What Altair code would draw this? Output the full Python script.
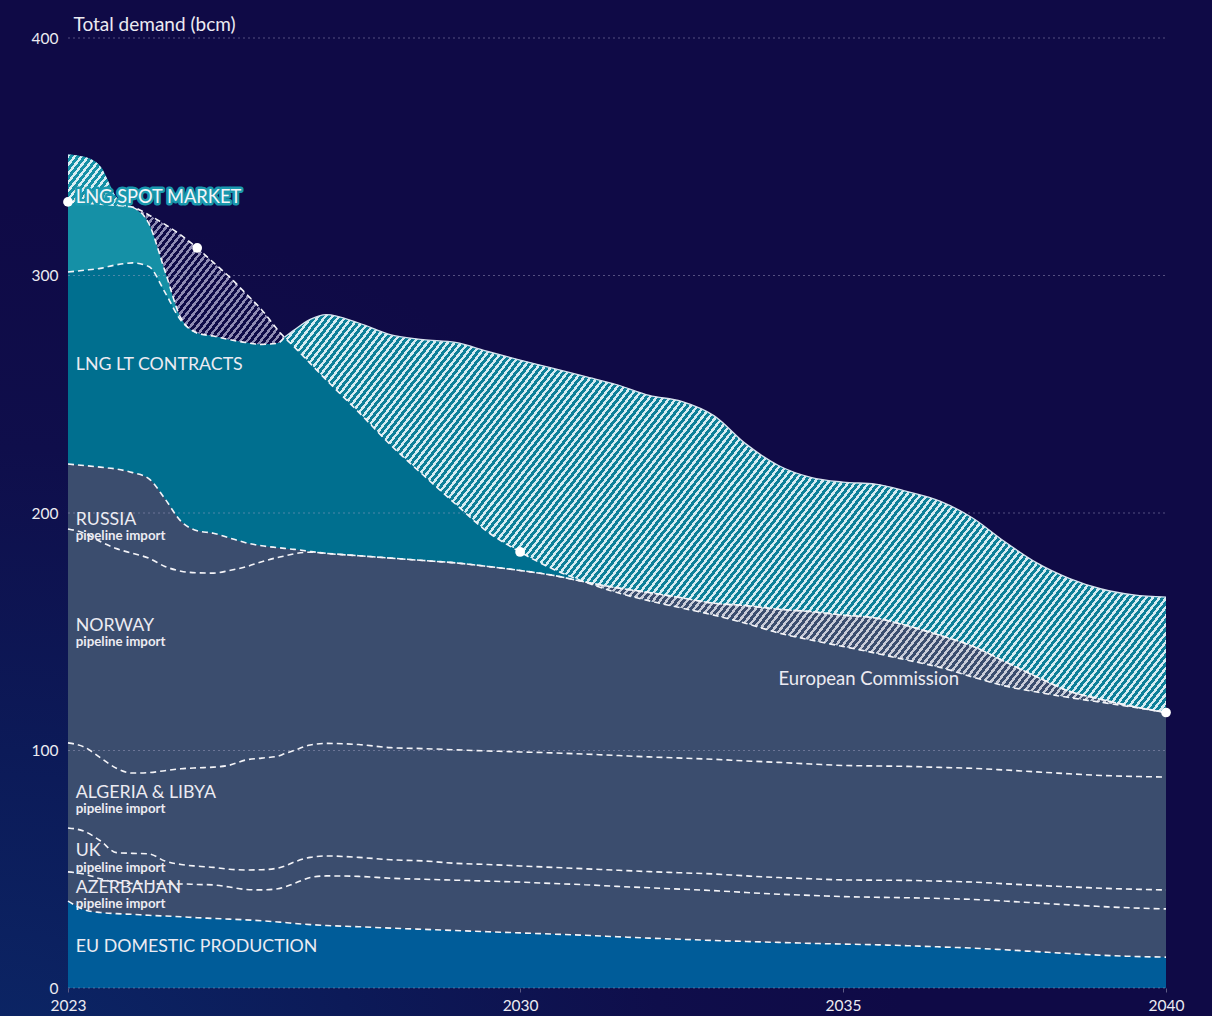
import math
import altair as alt
import pandas as pd

# ---------------- data ----------------
YEARS = [2023, 2023.25, 2023.5, 2023.75, 2024, 2024.25, 2024.5, 2024.75, 2025, 2025.25,
         2025.5, 2025.75, 2026, 2026.25, 2026.35, 2026.5, 2026.75, 2027, 2027.5, 2028,
         2028.5, 2029, 2029.5, 2030, 2030.5, 2031, 2031.5, 2032, 2032.5, 2033,
         2033.5, 2034, 2034.5, 2035, 2035.5, 2036, 2036.5, 2037, 2037.5, 2038,
         2038.5, 2039, 2039.5, 2040]

# cumulative tops of each supply layer (bcm)
EU_DOMESTIC_TOP = [36.6, 33.0, 31.8, 31.3, 31.0, 30.6, 30.3, 30.0, 29.6, 29.3,
                   29.0, 28.7, 28.3, 27.8, 27.6, 27.2, 26.7, 26.3, 25.8, 25.2,
                   24.7, 24.2, 23.7, 23.2, 22.7, 22.2, 21.6, 21.0, 20.5, 20.0,
                   19.6, 19.2, 18.8, 18.5, 18.2, 17.8, 17.3, 16.8, 16.1, 15.3,
                   14.5, 13.8, 13.3, 13.0]
AZERBAIJAN_TOP = [48.9, 48.0, 46.0, 44.5, 44.0, 43.9, 43.8, 43.8, 43.6, 43.4,
                  42.5, 41.5, 41.3, 41.8, 42.5, 44.0, 46.5, 47.2, 47.0, 46.2,
                  45.8, 45.4, 45.0, 44.6, 44.0, 43.5, 42.8, 42.2, 41.6, 41.0,
                  40.2, 39.5, 39.0, 38.5, 38.2, 38.0, 37.7, 37.3, 36.6, 35.8,
                  35.0, 34.3, 33.7, 33.3]
UK_TOP = [67.4, 66.0, 62.0, 57.0, 56.7, 56.5, 53.5, 52.0, 51.3, 50.8,
          50.0, 49.7, 49.8, 50.5, 51.3, 53.0, 55.0, 55.6, 55.0, 54.0,
          53.5, 52.5, 52.0, 51.4, 50.8, 50.2, 49.6, 49.0, 48.5, 48.0,
          47.2, 46.5, 46.0, 45.5, 45.4, 45.3, 45.0, 44.6, 43.9, 43.2,
          42.6, 42.0, 41.6, 41.3]
ALGERIA_LIBYA_TOP = [103.2, 101.5, 97.0, 92.5, 90.5, 90.7, 91.5, 92.3, 92.7, 93.0,
                     93.8, 96.0, 96.8, 97.6, 98.6, 100.0, 102.3, 103.0, 102.5, 101.2,
                     100.8, 100.3, 99.8, 99.4, 99.0, 98.5, 97.9, 97.3, 96.8, 96.3,
                     95.6, 95.0, 94.3, 93.7, 93.5, 93.3, 92.9, 92.5, 91.8, 91.0,
                     90.2, 89.5, 89.1, 88.8]
NORWAY_TOP = [193.3, 191.5, 188.0, 185.0, 183.0, 181.0, 177.5, 175.5, 174.8, 174.7,
              175.8, 177.3, 179.5, 181.3, 181.9, 182.8, 183.5, 183.0, 182.0, 181.0,
              180.0, 179.0, 177.5, 175.8, 173.8, 171.0, 168.5, 166.5, 164.3, 162.0,
              161.0, 159.5, 158.5, 157.0, 155.8, 152.5, 148.5, 144.0, 137.5, 131.0,
              125.0, 121.5, 118.5, 116.0]
RUSSIA_TOP = [220.6, 220.0, 219.3, 218.5, 217.0, 214.5, 206.0, 196.5, 192.5, 191.5,
              189.5, 187.5, 186.2, 185.4, 185.1, 184.7, 183.8, 183.0, 182.0, 181.0,
              180.0, 179.0, 177.5, 175.8, 173.8, 171.0, 168.5, 166.5, 164.3, 162.0,
              161.0, 159.5, 158.5, 157.0, 155.8, 152.5, 148.5, 144.0, 137.5, 131.0,
              125.0, 121.5, 118.5, 116.0]
TOTAL_TOP = [351.0, 350.0, 346.0, 333.0, 328.8, 322.0, 302.0, 282.0, 275.8, 274.5,
             273.0, 271.8, 271.0, 271.5, 274.0, 277.0, 281.5, 283.5, 280.0, 275.0,
             273.0, 271.8, 268.0, 264.4, 261.0, 257.5, 254.0, 249.5, 247.0, 241.0,
             229.0, 220.0, 215.0, 213.0, 212.2, 209.0, 205.0, 198.0, 188.0, 179.0,
             172.5, 168.0, 165.5, 164.6]
LNG_LT_TOP = [301.5, 302.2, 303.0, 304.5, 305.3, 303.8, 293.0, 281.0] + TOTAL_TOP[8:]
# European Commission demand projection
EC_DEMAND = [331.0, 330.5, 330.0, 329.5, 328.8, 325.5, 321.5, 317.0, 311.6, 305.5,
             299.4, 292.5, 285.5, 277.0, 274.0, 270.0, 263.0, 256.0, 242.5, 228.5,
             216.0, 203.8, 192.0, 183.6, 176.5, 171.0, 166.5, 163.0, 160.0, 157.0,
             153.5, 149.5, 146.5, 143.8, 141.0, 138.0, 135.0, 131.0, 127.2, 124.6,
             122.3, 120.3, 118.2, 116.0]
EC_DOT_YEARS = [2023, 2025, 2030, 2040]
EC_DOT_VALUES = [331.0, 311.6, 183.6, 116.0]

X_TICKS = [2023, 2030, 2035, 2040]
Y_TICKS = [0, 100, 200, 300, 400]

LABEL_TEXT = ["LNG LT CONTRACTS", "RUSSIA", "pipeline import", "NORWAY", "pipeline import",
              "ALGERIA & LIBYA", "pipeline import", "UK", "pipeline import",
              "AZERBAIJAN", "pipeline import", "EU DOMESTIC PRODUCTION"]
LABEL_VALUE = [262.3, 197.2, 190.2, 152.6, 145.5, 82.3, 75.3, 57.5, 50.4, 42.3, 35.3, 17.3]
LABEL_KIND = ["main", "main", "sub", "main", "sub", "main", "sub", "main", "sub",
              "main", "sub", "main"]
LABEL_YEAR = 2023.12
SPOT_LABEL = "LNG SPOT MARKET"
SPOT_LABEL_VALUE = 332.6
EC_LABEL = "European Commission"
EC_LABEL_YEAR = 2034.0
EC_LABEL_VALUE = 130.1

# ---------------- styling ----------------
W, H = 1098, 950
X_DOM = [2023, 2040]
Y_DOM = [0, 400]
BG = "#0f0a46"
C_SPOT = "#1590a6"
C_LT = "#006f8f"
C_SLATE = "#3b4d6e"
C_EU = "#005c99"
TXT = "#ecebf2"
FONT = "Lato"

xs = alt.Scale(domain=X_DOM, nice=False, zero=False)
ys = alt.Scale(domain=Y_DOM, nice=False, zero=False)

df = pd.DataFrame({
    "year": YEARS, "d": EU_DOMESTIC_TOP, "a": AZERBAIJAN_TOP, "u": UK_TOP,
    "l": ALGERIA_LIBYA_TOP, "n": NORWAY_TOP, "r": RUSSIA_TOP, "lt": LNG_LT_TOP,
    "t": TOTAL_TOP, "ec": EC_DEMAND,
})
df["zero"] = 0.0
df["top_teal"] = df[["t", "ec"]].max(axis=1)
df["top_slate"] = df[["n", "ec"]].max(axis=1)
df["top_dark"] = df[["ec", "t"]].max(axis=1)


def hatch(sub, hi, lo, stripe, gap, angle=52, hspace=6.8, frac=0.45):
    """diagonal stripe fill built as a hard-stop gradient over the area's bounding box"""
    wpx = (sub["year"].max() - sub["year"].min()) * W / (X_DOM[1] - X_DOM[0])
    hpx = (sub[hi].max() - sub[lo].min()) * H / (Y_DOM[1] - Y_DOM[0])
    th = math.radians(angle)
    a = wpx * math.sin(th)
    b = max(hpx, 1) * math.cos(th)
    k = (a + b) / (a * a + b * b)
    dx, dy = k * a, k * b
    D = a + b
    P = hspace * math.sin(th)
    n = int(math.ceil(D / P))
    p = P / D
    stops = []
    for i in range(n):
        s = i * p
        e = min(1.0, s + frac * p)
        f = min(1.0, s + p)
        stops += [{"offset": round(min(s, 1.0), 6), "color": stripe},
                  {"offset": round(e, 6), "color": stripe},
                  {"offset": round(e, 6), "color": gap},
                  {"offset": round(f, 6), "color": gap}]
    return {"gradient": "linear", "x1": 0, "y1": 0, "x2": dx, "y2": dy, "stops": stops}


X_AX = alt.Axis(values=X_TICKS, format="d", labelFontSize=15.5, labelColor=TXT, labelFont=FONT,
                tickSize=4, tickColor="#5d5b85", domain=False, grid=False, labelPadding=6,
                title=None, zindex=1, labelFlush=False)
Y_AX = alt.Axis(values=Y_TICKS, labelFontSize=15.5, labelColor=TXT, labelFont=FONT, ticks=False,
                domain=False, grid=False, labelPadding=10, zindex=1,
                title="Total demand (bcm)", titleAngle=0, titleAlign="left",
                titleBaseline="middle", titleX=5, titleY=-14, titleFontSize=19,
                titleFontWeight="normal", titleColor=TXT, titleFont=FONT)


def X():
    return alt.X("year:Q", scale=xs, axis=X_AX)


def Y(field):
    return alt.Y(f"{field}:Q", scale=ys, axis=Y_AX)


base = alt.Chart(df)

# background glow
bg = alt.Chart(pd.DataFrame({"k": [0]})).mark_rect(
    fill={"gradient": "radial", "x1": 0, "y1": 1, "r1": 0, "x2": 0, "y2": 1, "r2": 1,
          "stops": [{"offset": 0, "color": "#0b2868"}, {"offset": 0.3, "color": "#0c1a58"},
                    {"offset": 0.55, "color": "#0f0e4b"}, {"offset": 0.75, "color": BG},
                    {"offset": 1, "color": BG}]}
).encode(x=alt.value(-68), x2=alt.value(W + 46), y=alt.value(-38), y2=alt.value(H + 28))

# solid supply layers
spot = base.mark_area(interpolate="monotone", color=C_SPOT).encode(
    x=X(), y=Y("t"), y2="zero:Q")
lt = base.mark_area(interpolate="monotone", color=C_LT).encode(x=X(), y=Y("lt"), y2="zero:Q")
slate = base.mark_area(interpolate="monotone", color=C_SLATE).encode(x=X(), y=Y("r"), y2="zero:Q")
eu = base.mark_area(interpolate="monotone", color=C_EU).encode(x=X(), y=Y("d"), y2="zero:Q")

grid = alt.Chart(pd.DataFrame({"v": Y_TICKS})).mark_rule(
    color="#a9a7c8", opacity=0.45, strokeDash=[2, 3], strokeWidth=1
).encode(y=Y("v"), x=alt.value(0), x2=alt.value(W))

# hatched regions
d_spot = df[df["year"] <= 2024]
d_teal = df[df["year"] >= 2026.35]
d_slate = df[df["year"] >= 2031]
d_dark = df[(df["year"] >= 2024) & (df["year"] <= 2026.35)]

h_spot = alt.Chart(d_spot).mark_area(
    interpolate="monotone", fill=hatch(d_spot, "top_teal", "ec", "#d9eef3", C_SPOT)
).encode(x=X(), y=Y("top_teal"), y2="ec:Q")
h_teal = alt.Chart(d_teal).mark_area(
    interpolate="monotone", fill=hatch(d_teal, "top_teal", "ec", "#d6ecf2", "#0e7f98")
).encode(x=X(), y=Y("top_teal"), y2="ec:Q")
h_slate = alt.Chart(d_slate).mark_area(
    interpolate="monotone", fill=hatch(d_slate, "top_slate", "ec", "#c9ccd8", C_SLATE)
).encode(x=X(), y=Y("top_slate"), y2="ec:Q")
h_dark = alt.Chart(d_dark).mark_area(
    interpolate="monotone", fill=hatch(d_dark, "top_dark", "t", "#8f8bb3", "rgba(0,0,0,0)")
).encode(x=X(), y=Y("top_dark"), y2="t:Q")

# dashed boundaries
rows = []
for key in ["d", "a", "u", "l", "n", "r", "ec"]:
    for yr, v in zip(df["year"], df[key]):
        rows.append({"year": yr, "value": v, "series": key})
for yr, v in zip(df["year"], df["lt"]):
    if yr <= 2025:
        rows.append({"year": yr, "value": v, "series": "lt"})
for yr, v in zip(df["year"], df["t"]):
    if 2024 <= yr <= 2026.35:
        rows.append({"year": yr, "value": v, "series": "t"})
dlines = pd.DataFrame(rows)
lines = alt.Chart(dlines).mark_line(
    interpolate="monotone", color="#f4f4f8", strokeDash=[6, 4], strokeWidth=1.6
).encode(x=X(), y=Y("value"), detail="series:N")

t_solid = alt.Chart(d_teal).mark_line(
    interpolate="monotone", color="#d8e4ee", strokeWidth=1.3
).encode(x=X(), y=Y("t"))

dots = alt.Chart(pd.DataFrame({"year": EC_DOT_YEARS, "v": EC_DOT_VALUES})).mark_circle(
    size=95, color="white", opacity=1
).encode(x=X(), y=Y("v"))

labels = pd.DataFrame({"year": [LABEL_YEAR] * len(LABEL_TEXT), "v": LABEL_VALUE,
                       "text": LABEL_TEXT, "kind": LABEL_KIND})
lab_main = alt.Chart(labels).transform_filter("datum.kind == 'main'").mark_text(
    align="left", baseline="middle", font=FONT, fontSize=17.8, color=TXT
).encode(x=X(), y=Y("v"), text="text:N")
lab_sub = alt.Chart(labels).transform_filter("datum.kind == 'sub'").mark_text(
    align="left", baseline="middle", font=FONT, fontSize=13.3, fontWeight="bold", color=TXT
).encode(x=X(), y=Y("v"), text="text:N")

spot_df = pd.DataFrame({"year": [LABEL_YEAR], "v": [SPOT_LABEL_VALUE], "text": [SPOT_LABEL]})
spot_halo = alt.Chart(spot_df).mark_text(
    align="left", baseline="middle", font=FONT, fontSize=18.3, color="#1a98ad",
    stroke="#1a98ad", strokeWidth=5, strokeJoin="round"
).encode(x=X(), y=Y("v"), text="text:N")
spot_txt = alt.Chart(spot_df).mark_text(
    align="left", baseline="middle", font=FONT, fontSize=18.3, color="#f4f6fa"
).encode(x=X(), y=Y("v"), text="text:N")

ec_lab = alt.Chart(pd.DataFrame({"year": [EC_LABEL_YEAR], "v": [EC_LABEL_VALUE],
                                 "text": [EC_LABEL]})).mark_text(
    align="left", baseline="middle", font=FONT, fontSize=18.5, color=TXT
).encode(x=X(), y=Y("v"), text="text:N")

chart = alt.layer(
    bg, spot, lt, slate, eu, grid, h_spot, h_teal, h_slate, h_dark,
    t_solid, lines, dots, lab_main, lab_sub, spot_halo, spot_txt, ec_lab
).properties(
    width=W, height=H,
    autosize=alt.AutoSizeParams(type="none"),
    padding={"left": 68, "top": 38, "right": 46, "bottom": 28},
).configure(background=BG).configure_view(stroke="transparent")

chart.save("out.html", embed_options={"renderer": "svg", "actions": False})
